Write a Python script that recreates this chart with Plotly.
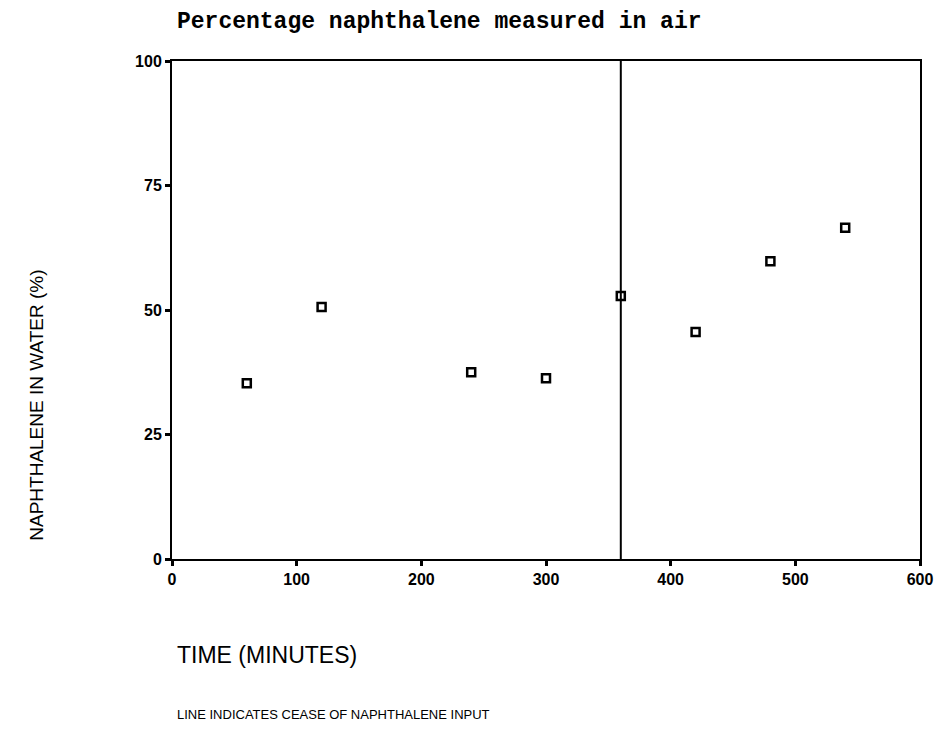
import plotly.graph_objects as go

# Data
time_min = [60, 120, 240, 300, 360, 420, 480, 540]
pct_water = [35.3, 50.6, 37.5, 36.3, 52.8, 45.6, 59.8, 66.5]
cease_time = [360, 360]
cease_y = [0, 100]
x_ticks = [0, 100, 200, 300, 400, 500, 600]
y_ticks = [0, 25, 50, 75, 100]

fig = go.Figure()
fig.add_trace(go.Scatter(
    x=cease_time, y=cease_y, mode="lines",
    line=dict(color="black", width=2), showlegend=False, hoverinfo="skip"))
fig.add_trace(go.Scatter(
    x=time_min, y=pct_water, mode="markers",
    marker=dict(symbol="square-open", size=8, color="black", line=dict(width=2.5)),
    showlegend=False))

tick_font = dict(family="Liberation Sans Narrow, Arial Narrow, Liberation Sans, Arial",
                 size=16, color="black", weight="bold")
axis_common = dict(
    showgrid=False, zeroline=False, showline=True, linecolor="black",
    linewidth=2, mirror=True, ticks="outside", tickcolor="black",
    tickwidth=3, ticklen=5, tickfont=tick_font,
)
fig.update_xaxes(range=[0, 600], tickvals=x_ticks, **axis_common)
fig.update_yaxes(range=[0, 100], tickvals=y_ticks, **axis_common)

fig.update_layout(
    width=937, height=723,
    margin=dict(l=164, r=23, t=53, b=172),
    paper_bgcolor="white", plot_bgcolor="white",
    annotations=[
        dict(text="Percentage naphthalene measured in air", xref="paper", yref="paper",
             x=0.004, y=1.078, xanchor="left", yanchor="middle", showarrow=False,
             font=dict(family="Liberation Mono, DejaVu Sans Mono, monospace", size=23,
                       color="black", weight="bold")),
        dict(text="NAPHTHALENE IN WATER (%)", xref="paper", yref="paper",
             x=-0.181, y=0.309, xanchor="center", yanchor="middle", textangle=-90, showarrow=False,
             font=dict(family="Liberation Sans, Arial", size=19, color="black")),
        dict(text="TIME (MINUTES)", xref="paper", yref="paper",
             x=0.004, y=-0.193, xanchor="left", yanchor="middle", showarrow=False,
             font=dict(family="Liberation Sans, Arial", size=23, color="black")),
        dict(text="LINE INDICATES CEASE OF NAPHTHALENE INPUT", xref="paper", yref="paper",
             x=0.004, y=-0.313, xanchor="left", yanchor="middle", showarrow=False,
             font=dict(family="Liberation Sans, Arial", size=13, color="black")),
    ],
)

fig.write_html("out.html")
